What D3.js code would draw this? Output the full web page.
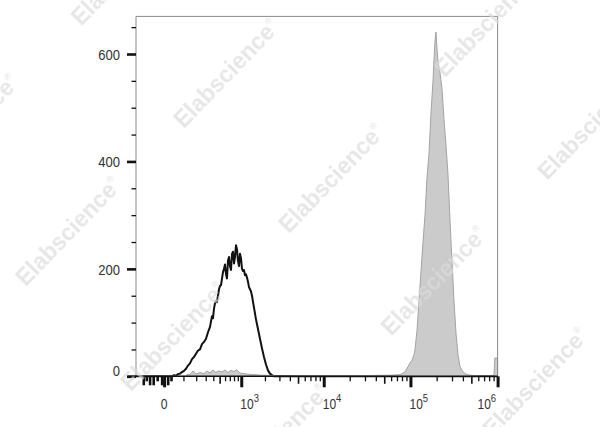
<!DOCTYPE html>
<html><head><meta charset="utf-8">
<script src="https://cdn.jsdelivr.net/npm/d3@7"></script>
<style>
body{margin:0;background:#fff}
svg{display:block}
text{font-family:"Liberation Sans",Arial,Helvetica,sans-serif}
</style>
</head><body>
<svg id="chart" width="600" height="427"></svg>
<script>
// ---- data (fluorescence intensity vs. event count) ----
const controlX = [-165,-100,0,20,34.8,44.8,55.4,66.5,78.2,90.6,103.7,117.4,131.9,147.2,163.3,180.3,198.2,217.1,237,257.9,280.1,303.4,328,353.9,381.2,395,410,425,440,456,472,489,506,524,542,560,579,599,619,639,660,682,704,727,751,775,800,825,851,878,905,933,962,992,1023,1054,1086,1119,1153,1188,1224,1261,1299,1337,1377,1460,1547,1639,1736,1839,1946,2060,2180,2306,2439,2580,3048,5273,20000,100000,1000000];
const controlY = [0,0,0,0,0,2,1,4,5,8,10,14,20,24,32,36,42,48,50,60,64,70,82,92,112,108,126,136,140,138,150,162,168,170,182,194,200,208,190,182,215,222,205,198,228,232,210,222,244,236,215,205,228,220,200,196,198,188,190,184,176,166,162,158,150,128,106,88,70,52,36,22,11,5,2,0,0,0,0,0,0];

const stainedX = [-165,100,110,131.9,147,172,198,237,280,315,354,395,440,489,542,599,660,727,800,878,962,1086,1224,1377,1547,1736,2060,2439,3048,5273,20150,58230,75870,86600,93740,98840,104200,109860,112800,118930,125400,132200,139400,146950,154940,163340,172200,181560,186420,191400,196530,201800,207200,218450,230300,242800,255960,269850,284500,299900,316200,333350,351440,370500,401050,434100,482500,628150,862200,908800,930000,1000000];
const stainedY = [0,0,0,4,3,10,4,7,5,10,6,12,7,10,8,12,7,11,9,12,6,5,4,3,3,2,2,1,0,1,1,2,3,8,18,25,30,40,50,85,140,195,250,300,370,415,490,550,590,625,641,610,585,565,535,478,430,375,290,215,140,80,40,18,8,4,2,1,1,1,34,34];

// ---- axis ticks ----
const yMajorTicks = [0,200,400,600];
const yMinorTicks = [50,100,150,250,300,350,450,500,550,650];
const xMajorTicks = [0,1000,10000,100000,1000000];
const xLabelBase = ["0","10","10","10","10"];
const xLabelExp  = ["","3","4","5","6"];
const xMinorTicks = [100,200,300,400,600,700,800,900,
  2000,3000,4000,6000,7000,8000,9000,
  20000,30000,40000,60000,70000,80000,90000,
  200000,300000,400000,600000,700000,800000,900000];
const xMidTicks = [500,5000,50000,500000];
const xNearZeroTicks = [-110,-90,-70,-50,-30,-10,15,30];

const watermarkText = "Elabscience";

// ---- layout ----
const L = 136, R = 497.6, T = 16.4, B = 376.3;
const svg = d3.select("#chart");
svg.append("rect").attr("width",600).attr("height",427).attr("fill","#fff");

const x = d3.scaleSymlog().constant(150).domain([-165, 1000000]).range([L, R]);
const y = d3.scaleLinear().domain([0, 670]).range([B, T]);

const ctrl = controlX.map((v,i)=>[v, controlY[i]]);
const stained = stainedX.map((v,i)=>[v, stainedY[i]]);

// control (black line)
svg.append("path").datum(ctrl)
  .attr("d", d3.line().x(d=>x(d[0])).y(d=>y(d[1])))
  .attr("fill","none").attr("stroke","#111").attr("stroke-width",2)
  .attr("stroke-linejoin","round");

// stained (grey filled)
svg.append("path").datum(stained)
  .attr("d", d3.area().x(d=>x(d[0])).y0(y(0)).y1(d=>y(d[1])))
  .attr("fill","#cbcbcb").attr("stroke","#a3a3a3").attr("stroke-width",1);

// frame
svg.append("path").attr("d",`M${L},${B}V${T}H${R}V${B}`)
  .attr("fill","none").attr("stroke","#8a8a8a").attr("stroke-width",1);
// baseline
svg.append("line").attr("x1",L-9).attr("x2",R).attr("y1",B).attr("y2",B)
  .attr("stroke","#111").attr("stroke-width",1.6);

function styleAxis(g, w){ g.select(".domain").remove(); g.selectAll("line").attr("stroke","#111").attr("stroke-width",w); }

// y axis ticks
svg.append("g").attr("transform",`translate(${L},0)`)
  .call(d3.axisLeft(y).tickValues(yMajorTicks).tickSize(9).tickFormat(""))
  .call(g=>styleAxis(g,2.6));
svg.append("g").attr("transform",`translate(${L},0)`)
  .call(d3.axisLeft(y).tickValues(yMinorTicks).tickSize(4.5).tickFormat(""))
  .call(g=>styleAxis(g,1.3));

// y labels
yMajorTicks.forEach(v=>{
  const yy = y(v) + (v===0 ? 0 : 6);
  svg.append("text").attr("transform",`translate(120,${yy}) scale(0.87,1)`)
    .attr("text-anchor","end").attr("font-size",15).attr("fill","#333").text(String(v));
});

// x axis ticks
svg.append("g").attr("transform",`translate(0,${B})`)
  .call(d3.axisBottom(x).tickValues(xMajorTicks).tickSize(11).tickFormat(""))
  .call(g=>styleAxis(g,3));
svg.append("g").attr("transform",`translate(0,${B})`)
  .call(d3.axisBottom(x).tickValues(xMinorTicks).tickSize(5).tickFormat(""))
  .call(g=>styleAxis(g,1.3));
svg.append("g").attr("transform",`translate(0,${B})`)
  .call(d3.axisBottom(x).tickValues(xMidTicks).tickSize(7.5).tickFormat(""))
  .call(g=>styleAxis(g,1.6));
svg.append("g").attr("transform",`translate(0,${B})`)
  .call(d3.axisBottom(x).tickValues(xNearZeroTicks).tickFormat(""))
  .call(g=>{ styleAxis(g,2.6); g.selectAll(".tick line").attr("y2",(d,i)=> i%3===1 ? 5 : 9); });

// x labels
xMajorTicks.forEach((v,i)=>{
  const px = x(v);
  const last = i === xMajorTicks.length-1;
  const t = svg.append("text").attr("font-size",14).attr("fill","#333");
  if (xLabelExp[i] === "") {
    t.attr("transform",`translate(${px},408.5) scale(0.87,1)`).attr("text-anchor","middle").text(xLabelBase[i]);
  } else {
    t.attr("transform",`translate(${last ? px-1.5 : px-1},408.5) scale(0.86,1)`)
     .attr("text-anchor", last ? "end" : "start");
    t.append("tspan").text(xLabelBase[i]);
    t.append("tspan").attr("font-size",11).attr("dy",-7).text(xLabelExp[i]);
  }
});

// watermark grid (decorative, partly off-canvas as in the reference)
const wmU = [95,300,510,715,917], wmV = [163,-153,-465];
const wm = svg.append("g").attr("opacity",0.7);
wmV.forEach(v=>wmU.forEach(u=>{
  const cx = (u - v)/2, cy = (u + v)/2;
  if (cx < -120 || cx > 720 || cy < -90 || cy > 520) return;
  const t = wm.append("text").attr("transform",`translate(${cx},${cy}) rotate(-46)`)
    .attr("text-anchor","middle").attr("dy","0.35em")
    .attr("font-size",23).attr("font-weight","bold").attr("fill","#dcdcdc");
  t.append("tspan").text(watermarkText);
  t.append("tspan").attr("font-size",9).attr("dy",-11).text("®");
}));
</script>
</body></html>
